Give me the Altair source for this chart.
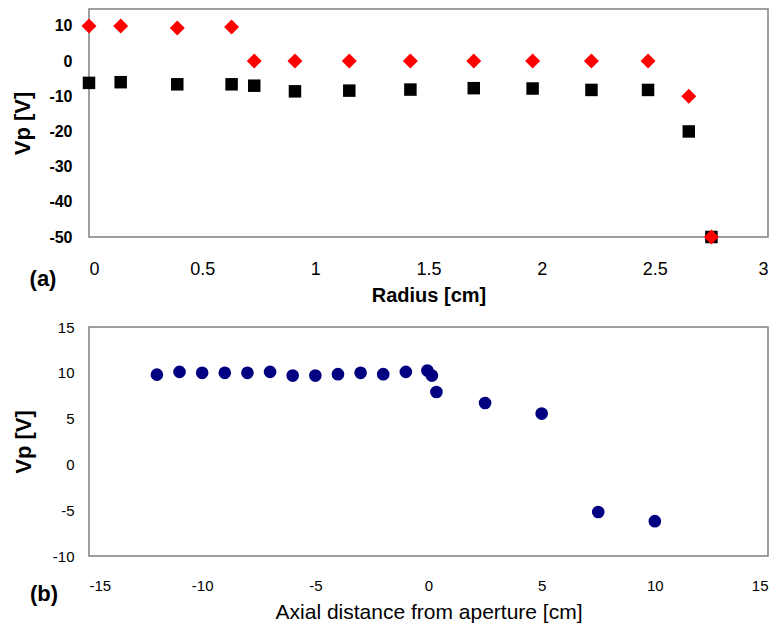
import altair as alt
import pandas as pd

# ---- panel (a): plasma potential vs radius ----
radius = [0, 0.14, 0.39, 0.63, 0.73, 0.91, 1.15, 1.42, 1.70, 1.96, 2.22, 2.47, 2.65, 2.75]
vp_red = [10, 10, 9.4, 9.7, 0, 0, 0, 0, 0, 0, 0, 0, -10, -50]
vp_black = [-6.2, -6.0, -6.6, -6.6, -7.0, -8.6, -8.4, -8.1, -7.7, -7.8, -8.2, -8.2, -20, -50]
radius_ticks = [0, 0.5, 1, 1.5, 2, 2.5, 3]
vp_a_ticks = [-50, -40, -30, -20, -10, 0, 10]

# ---- panel (b): plasma potential vs axial distance ----
axial = [-12, -11, -10, -9, -8, -7, -6, -5, -4, -3, -2, -1, -0.05, 0.15, 0.35, 2.5, 5, 7.5, 10]
vp_axial = [9.8, 10.1, 10.0, 10.0, 10.0, 10.1, 9.7, 9.7, 9.85, 10.0, 9.85, 10.1, 10.25, 9.7, 7.9, 6.7, 5.55, -5.2, -6.2]
axial_ticks = [-15, -10, -5, 0, 5, 10, 15]
vp_b_ticks = [-10, -5, 0, 5, 10, 15]

FONT = "Liberation Sans, Arial, sans-serif"
NARROW = "Liberation Sans Narrow, Liberation Sans, Arial, sans-serif"
HYPHEN = "datum.value < 0 ? '-' + format(-datum.value, '~g') : format(datum.value, '~g')"

df_a = pd.DataFrame({"radius": radius, "red": vp_red, "black": vp_black})
df_b = pd.DataFrame({"axial": axial, "vp": vp_axial})

x_a = alt.X(
    "radius:Q",
    title="Radius [cm]",
    scale=alt.Scale(domain=[0, 3], nice=False, zero=False),
    axis=alt.Axis(values=radius_ticks, labelExpr=HYPHEN, labelFont=NARROW, labelFontSize=18,
                  labelPadding=23, titleFont=FONT, titleFontSize=20, titleFontWeight="bold",
                  titlePadding=7, labelColor="black", titleColor="black"),
)
y_axis_a = alt.Axis(values=vp_a_ticks, labelExpr=HYPHEN, labelFont=FONT, labelFontSize=16,
                    labelFontWeight="bold", labelPadding=17, titleFont=FONT, titleFontSize=22,
                    titleFontWeight="bold", titlePadding=14, labelColor="black", titleColor="black")
y_scale_a = alt.Scale(domain=[-50, 14.8], nice=False, zero=False)

squares = alt.Chart(df_a).mark_point(shape="square", filled=True, color="black", size=156, opacity=1).encode(
    x=x_a,
    y=alt.Y("black:Q", title="Vp [V]", scale=y_scale_a, axis=y_axis_a),
)
diamonds = alt.Chart(df_a).mark_point(shape="diamond", filled=True, color="#ff0000", size=225, opacity=1).encode(
    x=x_a,
    y=alt.Y("red:Q", title="Vp [V]", scale=y_scale_a, axis=y_axis_a),
)
label_a = alt.Chart(pd.DataFrame({"lab": ["(a)"]})).mark_text(
    font=FONT, fontSize=22, fontWeight="bold", color="black", align="center", baseline="middle"
).encode(x=alt.value(-46), y=alt.value(270), text="lab:N")

top = alt.layer(squares, diamonds, label_a).properties(width=679, height=228)

points_b = alt.Chart(df_b).mark_point(shape="circle", filled=True, color="#000080", size=160, opacity=1).encode(
    x=alt.X("axial:Q", title="Axial distance from aperture [cm]",
            scale=alt.Scale(domain=[-15, 15], nice=False, zero=False),
            axis=alt.Axis(values=axial_ticks, labelExpr=HYPHEN, labelFont=FONT, labelFontSize=15,
                          labelPadding=22, titleFont=FONT, titleFontSize=21, titleFontWeight="normal",
                          titlePadding=8, labelColor="black", titleColor="black")),
    y=alt.Y("vp:Q", title="Vp [V]",
            scale=alt.Scale(domain=[-10, 15], nice=False, zero=False),
            axis=alt.Axis(values=vp_b_ticks, labelExpr=HYPHEN, labelFont=FONT, labelFontSize=15,
                          labelPadding=15, titleFont=FONT, titleFontSize=22, titleFontWeight="bold",
                          titlePadding=17, labelColor="black", titleColor="black")),
)
label_b = alt.Chart(pd.DataFrame({"lab": ["(b)"]})).mark_text(
    font=FONT, fontSize=22, fontWeight="bold", color="black", align="center", baseline="middle"
).encode(x=alt.value(-45), y=alt.value(267), text="lab:N")

bottom = alt.layer(points_b, label_b).properties(width=679, height=229)

chart = alt.vconcat(top, bottom, spacing=13).properties(
    padding={"left": 3, "top": 0, "right": 0, "bottom": 0}
).configure_view(
    stroke="#808080", strokeWidth=1.5
).configure_axis(
    grid=False, domain=False, ticks=False, tickSize=0
)

chart.save("out.html", embed_options={"renderer": "svg", "actions": False})
